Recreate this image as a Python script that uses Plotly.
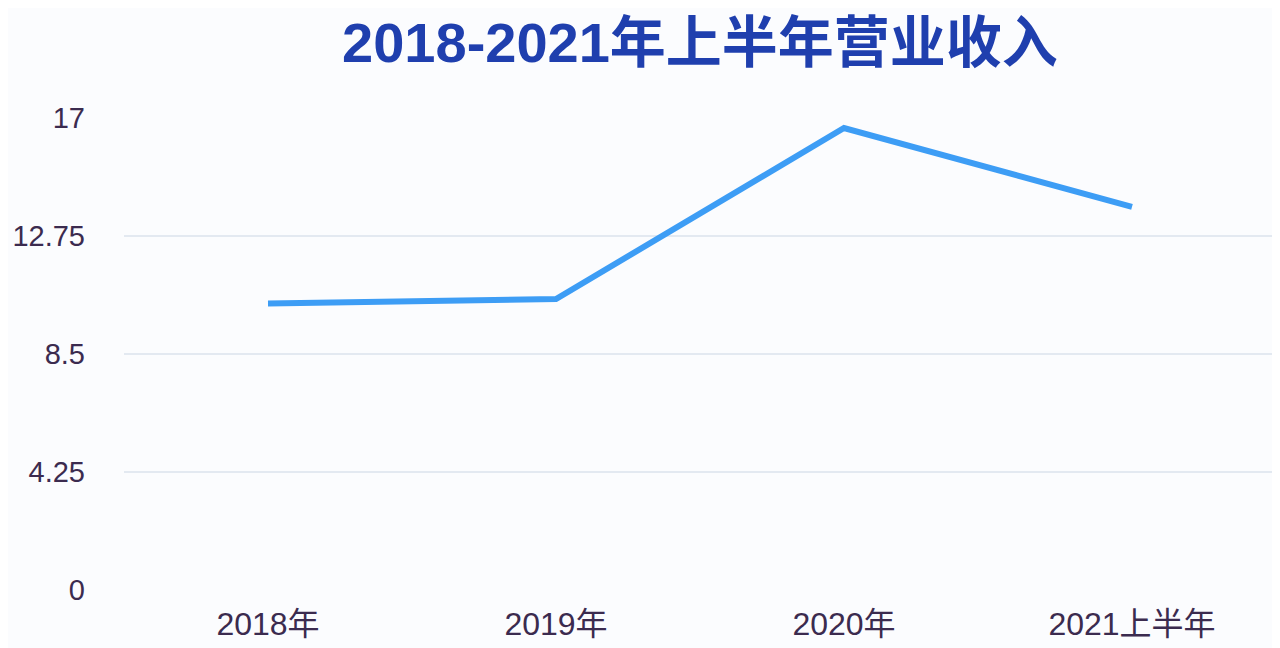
import plotly.graph_objects as go

categories = ["2018年", "2019年", "2020年", "2021上半年"]
revenue = [10.32, 10.48, 16.64, 13.8]
y_ticks = [0, 4.25, 8.5, 12.75, 17]
y_tick_labels = ["0", "4.25", "8.5", "12.75", "17"]

fig = go.Figure()
fig.add_trace(go.Scatter(
    x=categories, y=revenue, mode="lines",
    line=dict(color="#3d9df5", width=6),
    hoverinfo="x+y",
))

font_fam = "Liberation Sans, Arial, Noto Sans CJK SC, sans-serif"
fig.update_layout(
    width=1272, height=640,
    paper_bgcolor="#fbfcfe", plot_bgcolor="#fbfcfe",
    margin=dict(l=116, r=4, t=110, b=58),
    showlegend=False,
    title=dict(
        text="<b>2018-2021年上半年营业收入</b>",
        x=0.544, xanchor="center", y=0.947, yanchor="middle",
        font=dict(family="Liberation Sans, Noto Sans CJK SC, sans-serif", size=56, color="#1f3fae"),
    ),
    xaxis=dict(
        type="category", range=[-0.5, 3.5], automargin=False,
        showgrid=False, zeroline=False, showline=False,
        tickfont=dict(family=font_fam, size=32, color="#3b2b4f"),
        ticklabelstandoff=12,
    ),
    yaxis=dict(
        range=[0, 17], tickvals=y_ticks, ticktext=y_tick_labels, automargin=False,
        showgrid=True, gridcolor="#e3e9f1", gridwidth=1.5,
        zeroline=False, showline=False,
        tickfont=dict(family=font_fam, size=29, color="#3b2b4f"),
        ticklabelstandoff=38,
    ),
)

fig.write_html("out.html")
